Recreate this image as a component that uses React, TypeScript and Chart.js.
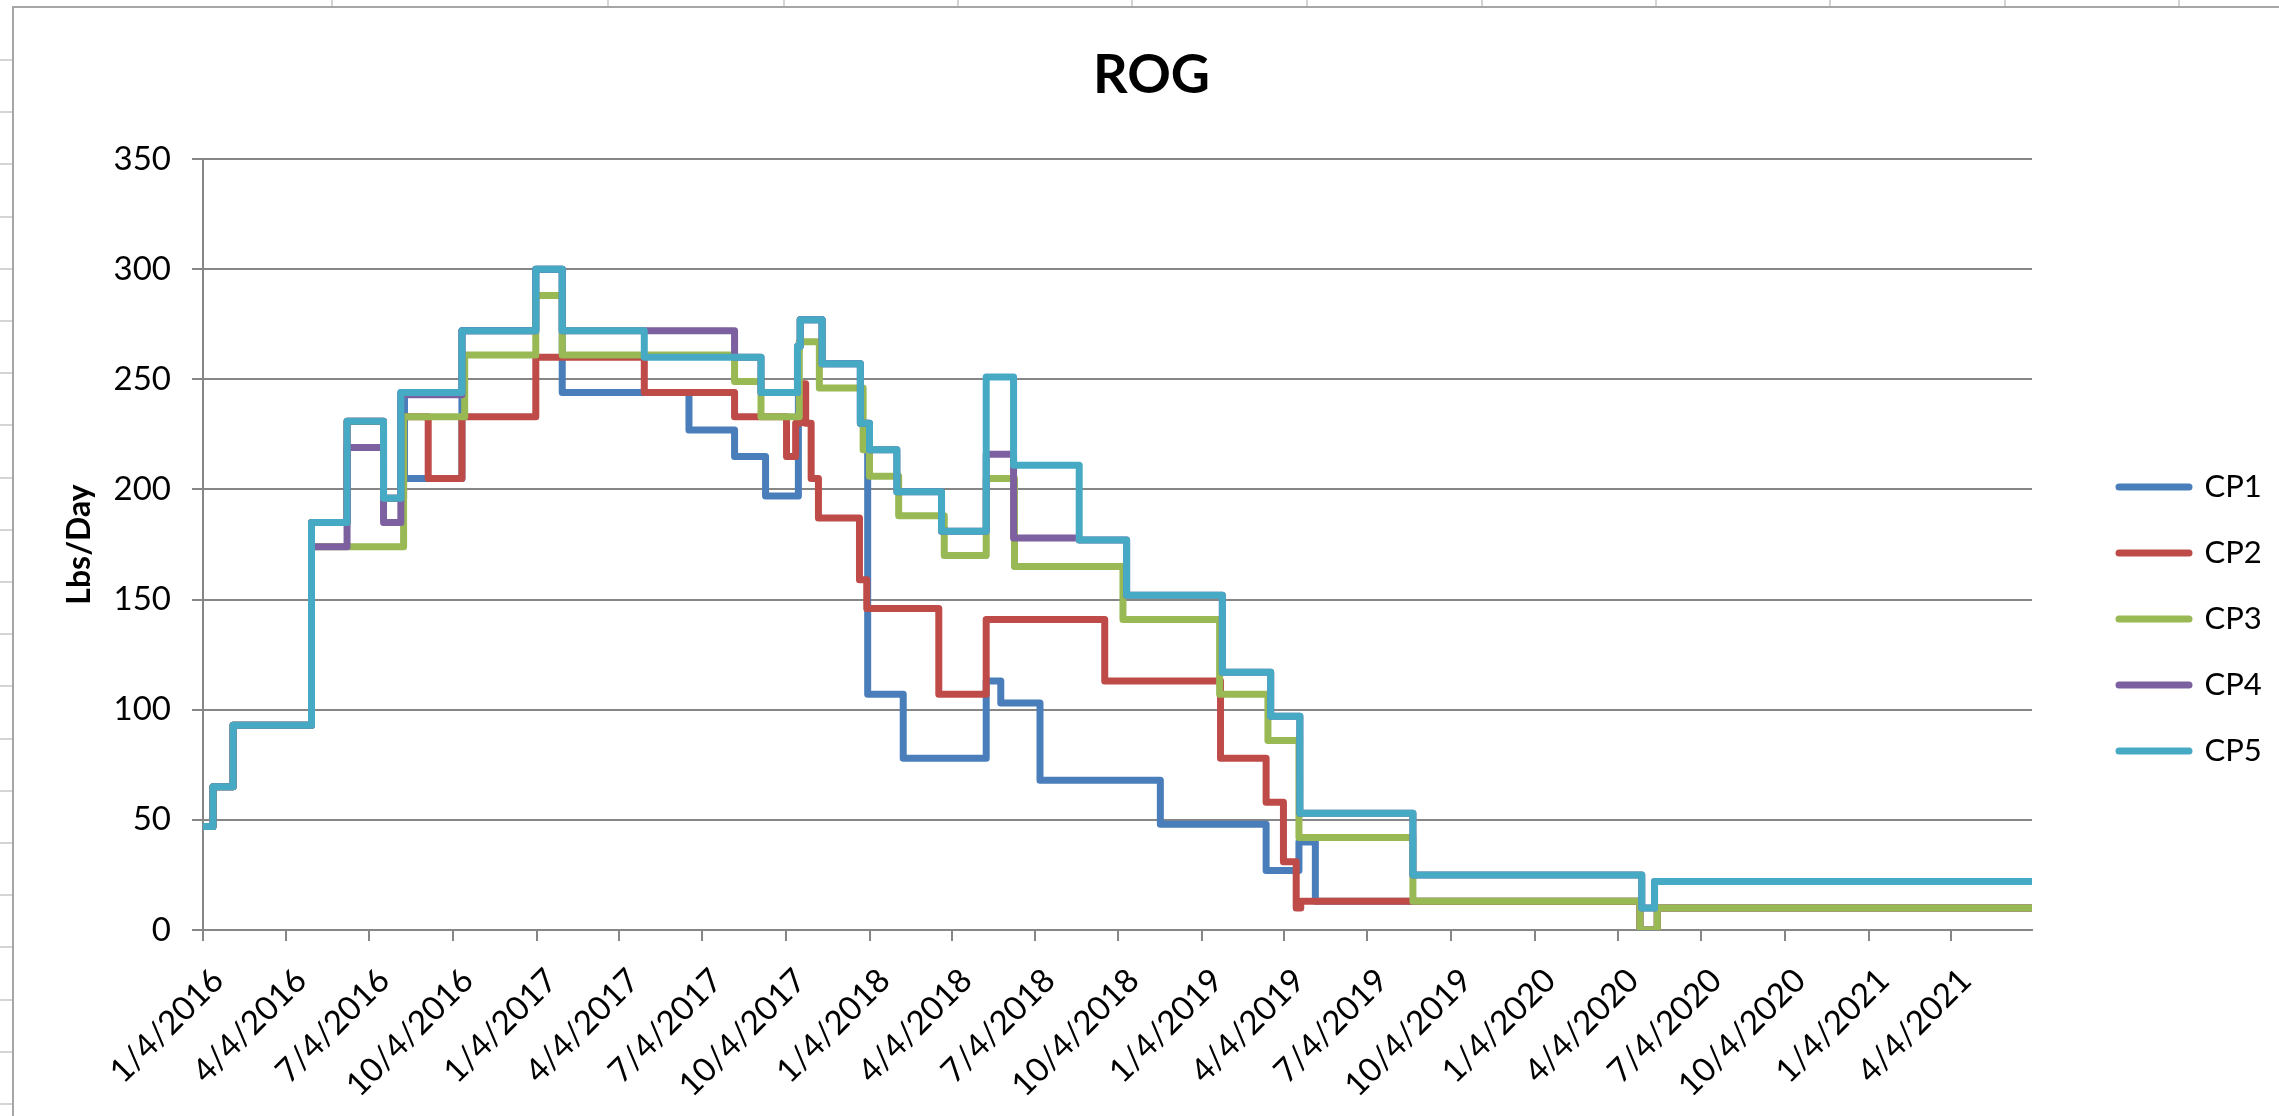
import React, { useEffect, useRef } from "react";
import { Chart, registerables } from "chart.js";

Chart.register(...registerables);

// ---------------- data ----------------
const TITLE = "ROG";
const Y_TITLE = "Lbs/Day";
const X_START = "1/4/2016";
const X_END = "7/2/2021";
const X_TICK_LABELS = [
  "1/4/2016", "4/4/2016", "7/4/2016", "10/4/2016",
  "1/4/2017", "4/4/2017", "7/4/2017", "10/4/2017",
  "1/4/2018", "4/4/2018", "7/4/2018", "10/4/2018",
  "1/4/2019", "4/4/2019", "7/4/2019", "10/4/2019",
  "1/4/2020", "4/4/2020", "7/4/2020", "10/4/2020",
  "1/4/2021", "4/4/2021",
];
const Y_MIN = 0;
const Y_MAX = 350;
const Y_STEP = 50;

const SERIES_NAMES = ["CP1", "CP2", "CP3", "CP4", "CP5"];
const SERIES_COLORS = ["#4A7EBB", "#BE4B48", "#98B954", "#7D60A0", "#46AAC5"];

// each value holds from its date until the next date
const CP1_DATES = [
  "1/4/2016", "1/15/2016", "2/6/2016", "5/2/2016", "6/10/2016", "7/20/2016", "8/8/2016", "8/12/2016",
  "10/14/2016", "1/3/2017", "2/1/2017", "6/20/2017", "8/9/2017", "9/12/2017", "10/18/2017", "10/20/2017",
  "11/13/2017", "12/25/2017", "1/2/2018", "2/10/2018", "5/12/2018", "5/28/2018", "7/10/2018", "11/19/2018",
  "3/15/2019", "4/20/2019", "5/8/2019", "4/28/2020", "5/17/2020",
];
const CP1_VALUES = [
  47, 65, 93, 185, 231, 196, 244, 205,
  272, 300, 244, 227, 215, 197, 265, 277,
  257, 230, 107, 78, 113, 103, 68, 48,
  27, 40, 13, 0, 10,
];

const CP2_DATES = [
  "1/4/2016", "1/15/2016", "2/6/2016", "5/2/2016", "6/10/2016", "7/20/2016", "8/11/2016", "9/7/2016",
  "10/14/2016", "1/3/2017", "5/2/2017", "8/9/2017", "10/5/2017", "10/15/2017", "10/20/2017", "10/26/2017",
  "11/1/2017", "11/9/2017", "12/24/2017", "1/1/2018", "3/21/2018", "5/12/2018", "9/19/2018", "1/24/2019",
  "3/15/2019", "4/3/2019", "4/17/2019", "4/22/2019", "4/28/2020", "5/17/2020",
];
const CP2_VALUES = [
  47, 65, 93, 185, 231, 196, 233, 205,
  233, 260, 244, 233, 215, 230, 248, 230,
  205, 187, 159, 146, 107, 141, 113, 78,
  58, 31, 10, 13, 0, 10,
];

const CP3_DATES = [
  "1/4/2016", "1/15/2016", "2/6/2016", "5/2/2016", "8/11/2016", "10/17/2016", "1/3/2017", "2/1/2017",
  "8/9/2017", "9/7/2017", "10/19/2017", "11/10/2017", "12/28/2017", "1/4/2018", "2/5/2018", "3/27/2018",
  "5/12/2018", "6/12/2018", "10/9/2018", "1/23/2019", "3/17/2019", "4/20/2019", "8/23/2019", "4/28/2020",
  "5/17/2020",
];
const CP3_VALUES = [
  47, 65, 93, 174, 233, 261, 288, 261,
  249, 233, 267, 246, 218, 206, 188, 170,
  205, 165, 141, 107, 86, 42, 13, 0,
  10,
];

const CP4_DATES = [
  "1/4/2016", "1/15/2016", "2/6/2016", "5/2/2016", "6/10/2016", "7/20/2016", "8/8/2016", "10/14/2016",
  "1/3/2017", "2/1/2017", "8/9/2017", "9/7/2017", "10/17/2017", "10/20/2017", "11/13/2017", "12/25/2017",
  "1/4/2018", "2/3/2018", "3/24/2018", "5/12/2018", "6/11/2018", "8/22/2018", "10/13/2018", "1/26/2019",
  "3/20/2019", "4/21/2019", "8/23/2019", "4/30/2020", "5/14/2020",
];
const CP4_VALUES = [
  47, 65, 93, 174, 219, 185, 243, 272,
  300, 272, 260, 244, 265, 277, 257, 230,
  218, 199, 181, 216, 178, 177, 152, 117,
  97, 53, 25, 10, 22,
];

const CP5_DATES = [
  "1/4/2016", "1/15/2016", "2/6/2016", "5/2/2016", "6/10/2016", "7/20/2016", "8/8/2016", "10/14/2016",
  "1/3/2017", "2/1/2017", "5/2/2017", "9/7/2017", "10/17/2017", "10/20/2017", "11/13/2017", "12/25/2017",
  "1/4/2018", "2/3/2018", "3/24/2018", "5/12/2018", "6/11/2018", "8/22/2018", "10/13/2018", "1/26/2019",
  "3/20/2019", "4/21/2019", "8/23/2019", "4/30/2020", "5/14/2020",
];
const CP5_VALUES = [
  47, 65, 93, 185, 231, 196, 244, 272,
  300, 272, 260, 244, 265, 277, 257, 230,
  218, 199, 181, 251, 211, 177, 152, 117,
  97, 53, 25, 10, 22,
];

const SERIES_DATES = [CP1_DATES, CP2_DATES, CP3_DATES, CP4_DATES, CP5_DATES];
const SERIES_VALUES = [CP1_VALUES, CP2_VALUES, CP3_VALUES, CP4_VALUES, CP5_VALUES];

// ---------------- helpers ----------------
const toUtc = (s: string) => {
  const [m, d, y] = s.split("/").map(Number);
  return Date.UTC(y, m - 1, d) / 86400000;
};
const BASE = toUtc(X_START);
const dayOf = (s: string) => toUtc(s) - BASE;

const FONT = "Lato";
const GRID = "#868686";
const LINE_W = 7;

const CANVAS_W = 2275;
const CANVAS_H = 1222;
const LEGEND_FONT = 31;
const LEGEND_PAD = 35;
const LEGEND_LINE = 70;
const LEGEND_LEFT = 2070; // canvas px
const PLOT_LEFT = 189; // canvas px

// spreadsheet background bits
const COL_LINES = [331, 607, 783, 957, 1131, 1306, 1481, 1655, 1829, 2004, 2178];
const ROW_LINES = Array.from({ length: 21 }, (_, k) => Math.round(59 + 52.2 * k));

export default function App() {
  const ref = useRef<HTMLCanvasElement | null>(null);

  useEffect(() => {
    if (!ref.current) return;
    const endDay = dayOf(X_END);
    const tickDays = X_TICK_LABELS.map(dayOf);

    // measure legend text so the legend box lands where wanted
    const mctx = document.createElement("canvas").getContext("2d")!;
    mctx.font = `normal ${LEGEND_FONT}px ${FONT}`;
    const textW = Math.max(...SERIES_NAMES.map((n) => mctx.measureText(n).width));
    const legendW = LEGEND_PAD + LEGEND_LINE + LEGEND_FONT / 2 + textW + 10;
    const padSide = Math.max(0, CANVAS_W - LEGEND_LEFT - legendW);
    const yAxisW = PLOT_LEFT - padSide;
    const yTitlePad = 66 - padSide - 32 * 1.2 / 2;

    const datasets = SERIES_NAMES.map((name, i) => {
      const pts = SERIES_DATES[i].map((d, j) => ({ x: dayOf(d), y: SERIES_VALUES[i][j] }));
      pts.push({ x: endDay, y: SERIES_VALUES[i][SERIES_VALUES[i].length - 1] });
      return {
        label: name,
        data: pts,
        borderColor: SERIES_COLORS[i],
        backgroundColor: SERIES_COLORS[i],
        borderWidth: LINE_W,
        borderJoinStyle: "round" as const,
        borderCapStyle: "round" as const,
        stepped: "before" as const,
        pointRadius: 0,
        pointHoverRadius: 0,
        fill: false,
        order: SERIES_NAMES.length - i,
      };
    });

    const chart = new Chart(ref.current, {
      type: "line",
      data: { datasets },
      options: {
        animation: false,
        responsive: false,
        devicePixelRatio: 1,
        events: [],
        layout: { padding: { left: padSide, right: padSide, top: 0, bottom: 0 } },
        plugins: {
          tooltip: { enabled: false },
          title: {
            display: true,
            text: TITLE,
            color: "#000",
            font: { family: FONT, size: 54, weight: "bold", lineHeight: 1.2 },
            padding: { top: 35, bottom: 51.2 },
          },
          legend: {
            display: true,
            position: "right",
            align: "center",
            labels: {
              usePointStyle: true,
              pointStyleWidth: LEGEND_LINE,
              padding: LEGEND_PAD,
              color: "#000",
              font: { family: FONT, size: LEGEND_FONT },
              generateLabels: (c: any) =>
                c.data.datasets.map((ds: any, i: number) => ({
                  text: ds.label,
                  fillStyle: ds.borderColor,
                  strokeStyle: ds.borderColor,
                  lineWidth: LINE_W,
                  lineCap: "round",
                  pointStyle: "line",
                  hidden: false,
                  datasetIndex: i,
                  fontColor: "#000",
                })),
            },
          },
        },
        scales: {
          x: {
            type: "linear",
            min: 0,
            max: endDay,
            afterBuildTicks: (scale: any) => {
              scale.ticks = tickDays.map((v) => ({ value: v }));
            },
            afterFit: (scale: any) => {
              scale.height = 300;
            },
            ticks: {
              autoSkip: false,
              minRotation: 45,
              maxRotation: 45,
              padding: 20,
              labelOffset: 15,
              color: "#000",
              font: { family: FONT, size: 33 },
              callback: (_v: any, idx: number) => X_TICK_LABELS[idx],
            },
            grid: {
              display: true,
              drawOnChartArea: false,
              drawTicks: true,
              tickLength: 11,
              color: GRID,
              lineWidth: 2,
            },
            border: { display: true, color: GRID, width: 2 },
          },
          y: {
            type: "linear",
            position: "left",
            min: Y_MIN,
            max: Y_MAX,
            afterFit: (scale: any) => {
              scale.width = yAxisW;
            },
            ticks: {
              stepSize: Y_STEP,
              padding: 21,
              color: "#000",
              font: { family: FONT, size: 33 },
            },
            grid: {
              color: GRID,
              lineWidth: 2,
              drawTicks: true,
              tickLength: 11,
            },
            border: { display: true, color: GRID, width: 2 },
            title: {
              display: true,
              text: Y_TITLE,
              color: "#000",
              font: { family: FONT, size: 32, weight: "bold", lineHeight: 1.2 },
              padding: { top: yTitlePad, bottom: 0 },
            },
          },
          spacer: {
            type: "linear",
            position: "right",
            display: true,
            afterFit: (scale: any) => {
              scale.width = 52;
            },
            ticks: { display: false },
            grid: { display: false, drawTicks: false },
            border: { display: false },
            title: { display: false },
          },
        },
      } as any,
    });

    return () => chart.destroy();
  }, []);

  return (
    <div
      style={{
        position: "fixed",
        left: 0,
        top: 0,
        width: 2279,
        height: 1116,
        overflow: "hidden",
        background: "#fff",
      }}
    >
      {COL_LINES.map((x) => (
        <div
          key={"c" + x}
          style={{ position: "absolute", left: x, top: 0, width: 2, height: 6, background: "#d4d4d4" }}
        />
      ))}
      {ROW_LINES.map((y) => (
        <div
          key={"r" + y}
          style={{ position: "absolute", left: 0, top: y, width: 12, height: 2, background: "#d4d4d4" }}
        />
      ))}
      <div style={{ position: "absolute", left: 12, top: 6, width: 2279, height: 2, background: "#a6a6a6" }} />
      <div style={{ position: "absolute", left: 12, top: 6, width: 2, height: 1116, background: "#a6a6a6" }} />
      <canvas
        ref={ref}
        width={CANVAS_W}
        height={CANVAS_H}
        style={{ position: "absolute", left: 14, top: 8, width: CANVAS_W, height: CANVAS_H, display: "block" }}
      />
    </div>
  );
}
